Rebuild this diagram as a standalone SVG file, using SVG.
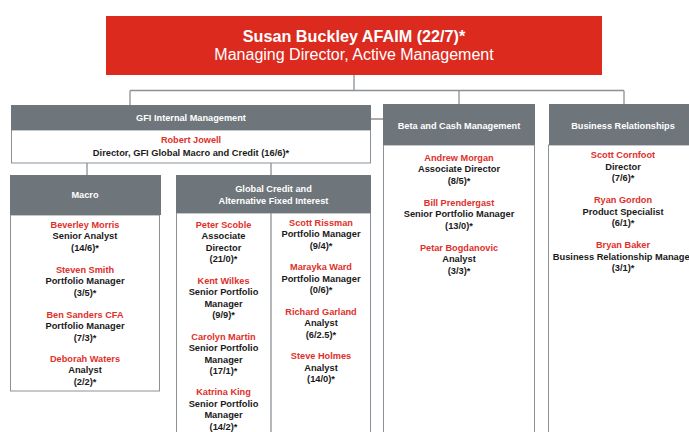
<svg xmlns="http://www.w3.org/2000/svg" width="689" height="432" viewBox="0 0 689 432">
<style>
.hd{fill:#6e757b}
.bd{fill:#fff;stroke:#8c9196;stroke-width:1}
.ln{fill:none;stroke:#8c9196;stroke-width:1.3}
.ht{font-family:"Liberation Sans",Arial,sans-serif;font-size:9.2px;font-weight:bold;fill:#fff;text-anchor:middle}
.nm{font-family:"Liberation Sans",Arial,sans-serif;font-size:9.2px;font-weight:bold;fill:#e0302a;text-anchor:middle}
.tx{font-family:"Liberation Sans",Arial,sans-serif;font-size:9.3px;font-weight:bold;fill:#1a1a1a;text-anchor:middle}
</style>
<rect width="689" height="432" fill="#fff"/>
<g id="connectors">
<path class="ln" d="M354 75V90.5M130 90.5H624M130 90.5V105M459 90.5V104M624 90.5V104M371 119H383M87 163V175M271 163V175"/>
</g>
<g id="top">
<rect x="106" y="16" width="496" height="59" fill="#dc2a1f"/>
<text x="354" y="41.5" font-family="Liberation Sans,Arial,sans-serif" font-size="16.2" font-weight="bold" fill="#fff" text-anchor="middle">Susan Buckley AFAIM (22/7)*</text>
<text x="354" y="60" font-family="Liberation Sans,Arial,sans-serif" font-size="16" fill="#fff" text-anchor="middle">Managing Director, Active Management</text>
</g>
<g id="gfi">
<rect class="bd" x="11.5" y="130" width="359" height="33"/>
<rect class="hd" x="11" y="105" width="360" height="25"/>
<text class="ht" x="191" y="120.5">GFI Internal Management</text>
<text class="nm" x="191" y="142.5">Robert Jowell</text>
<text class="tx" x="191" y="156">Director, GFI Global Macro and Credit (16/6)*</text>
</g>
<g id="macro">
<rect class="bd" x="10.5" y="215" width="149" height="176"/>
<rect class="hd" x="10" y="175" width="151" height="40"/>
<text class="ht" x="85" y="198">Macro</text>
<text class="nm" x="85" y="227.5">Beverley Morris</text>
<text class="tx" x="85" y="239">Senior Analyst</text>
<text class="tx" x="85" y="250.5">(14/6)*</text>
<text class="nm" x="85" y="272.5">Steven Smith</text>
<text class="tx" x="85" y="284">Portfolio Manager</text>
<text class="tx" x="85" y="295.5">(3/5)*</text>
<text class="nm" x="85" y="317.5">Ben Sanders CFA</text>
<text class="tx" x="85" y="329">Portfolio Manager</text>
<text class="tx" x="85" y="340.5">(7/3)*</text>
<text class="nm" x="85" y="361.5">Deborah Waters</text>
<text class="tx" x="85" y="373">Analyst</text>
<text class="tx" x="85" y="384.5">(2/2)*</text>
</g>
<g id="credit">
<rect class="bd" x="176.5" y="213" width="194" height="230"/>
<path class="ln" d="M271 213V432" stroke-width="1"/>
<rect class="hd" x="176" y="175" width="195" height="38"/>
<text class="ht" x="273.5" y="192">Global Credit and</text>
<text class="ht" x="273.5" y="203.5">Alternative Fixed Interest</text>
<text class="nm" x="223.5" y="227.5">Peter Scoble</text>
<text class="tx" x="223.5" y="239">Associate</text>
<text class="tx" x="223.5" y="250.5">Director</text>
<text class="tx" x="223.5" y="262">(21/0)*</text>
<text class="nm" x="223.5" y="283.5">Kent Wilkes</text>
<text class="tx" x="223.5" y="295">Senior Portfolio</text>
<text class="tx" x="223.5" y="306.5">Manager</text>
<text class="tx" x="223.5" y="318">(9/9)*</text>
<text class="nm" x="223.5" y="339.5">Carolyn Martin</text>
<text class="tx" x="223.5" y="351">Senior Portfolio</text>
<text class="tx" x="223.5" y="362.5">Manager</text>
<text class="tx" x="223.5" y="374">(17/1)*</text>
<text class="nm" x="223.5" y="395">Katrina King</text>
<text class="tx" x="223.5" y="406.5">Senior Portfolio</text>
<text class="tx" x="223.5" y="418">Manager</text>
<text class="tx" x="223.5" y="429.5">(14/2)*</text>
<text class="nm" x="321" y="225.5">Scott Rissman</text>
<text class="tx" x="321" y="237">Portfolio Manager</text>
<text class="tx" x="321" y="248.5">(9/4)*</text>
<text class="nm" x="321" y="270">Marayka Ward</text>
<text class="tx" x="321" y="281.5">Portfolio Manager</text>
<text class="tx" x="321" y="293">(0/6)*</text>
<text class="nm" x="321" y="314.5">Richard Garland</text>
<text class="tx" x="321" y="326">Analyst</text>
<text class="tx" x="321" y="337.5">(6/2.5)*</text>
<text class="nm" x="321" y="359">Steve Holmes</text>
<text class="tx" x="321" y="370.5">Analyst</text>
<text class="tx" x="321" y="382">(14/0)*</text>
</g>
<g id="beta">
<rect class="bd" x="383.5" y="145" width="151" height="300"/>
<rect class="hd" x="383" y="104" width="152" height="41"/>
<text class="ht" x="459" y="128.5">Beta and Cash Management</text>
<text class="nm" x="459" y="160.5">Andrew Morgan</text>
<text class="tx" x="459" y="172">Associate Director</text>
<text class="tx" x="459" y="183.5">(8/5)*</text>
<text class="nm" x="459" y="205.5">Bill Prendergast</text>
<text class="tx" x="459" y="217">Senior Portfolio Manager</text>
<text class="tx" x="459" y="228.5">(13/0)*</text>
<text class="nm" x="459" y="250.5">Petar Bogdanovic</text>
<text class="tx" x="459" y="262">Analyst</text>
<text class="tx" x="459" y="273.5">(3/3)*</text>
</g>
<g id="business">
<rect class="bd" x="548.5" y="145" width="151" height="300"/>
<rect class="hd" x="549" y="104" width="150" height="41"/>
<text class="ht" x="623" y="128.5">Business Relationships</text>
<text class="nm" x="623" y="158">Scott Cornfoot</text>
<text class="tx" x="623" y="169.5">Director</text>
<text class="tx" x="623" y="181">(7/6)*</text>
<text class="nm" x="623" y="203">Ryan Gordon</text>
<text class="tx" x="623" y="214.5">Product Specialist</text>
<text class="tx" x="623" y="226">(6/1)*</text>
<text class="nm" x="623" y="248">Bryan Baker</text>
<text class="tx" x="623" y="259.5">Business Relationship Manager</text>
<text class="tx" x="623" y="271">(3/1)*</text>
</g>
</svg>
